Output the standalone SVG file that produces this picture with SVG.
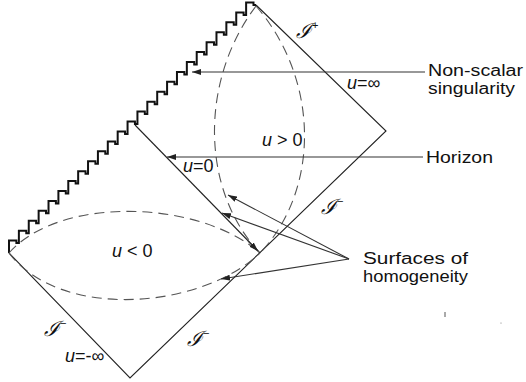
<svg xmlns="http://www.w3.org/2000/svg" width="526" height="382" viewBox="0 0 526 382">
<defs>
<style>
.edge{fill:none;stroke:#222;stroke-width:1.1}
.sing{fill:none;stroke:#111;stroke-width:2}
.dash{fill:none;stroke:#555;stroke-width:1.1;stroke-dasharray:10 6}
.ptr{fill:none;stroke:#333;stroke-width:1.1}
.lbl{font-family:"Liberation Sans",Arial,sans-serif;font-size:16px;fill:#111}
.u{font-family:"Liberation Sans",Arial,sans-serif;font-size:18px;fill:#111}
.scri{font-family:"DejaVu Serif","Liberation Serif",serif;font-style:italic;font-size:21px;fill:#111}
.sup{font-family:"Liberation Sans",Arial,sans-serif;font-style:normal;font-size:11px}
</style>
<marker id="ah" viewBox="0 0 9 6" refX="9" refY="3" markerWidth="9" markerHeight="6" markerUnits="userSpaceOnUse" orient="auto">
<path d="M0,0 L9,3 L0,6 z" fill="#222"/>
</marker>
</defs>
<rect width="526" height="382" fill="#fff"/>
<g id="spacetime">
<path class="sing" d="M9,253 v-12.42h7.38v2.5h2.5 v-12.42h7.38v2.5h2.5 v-12.42h7.38v2.5h2.5 v-12.42h7.38v2.5h2.5 v-12.42h7.38v2.5h2.5 v-12.42h7.38v2.5h2.5 v-12.42h7.38v2.5h2.5 v-12.42h7.38v2.5h2.5 v-12.42h7.38v2.5h2.5 v-12.42h7.38v2.5h2.5 v-12.42h7.38v2.5h2.5 v-12.42h7.38v2.5h2.5 v-12.42h7.38v2.5h2.5 v-12.42h7.38v2.5h2.5 v-12.42h7.38v2.5h2.5 v-12.42h7.38v2.5h2.5 v-12.42h7.38v2.5h2.5 v-12.42h7.38v2.5h2.5 v-12.42h7.38v2.5h2.5 v-12.42h7.38v2.5h2.5 v-12.42h7.38v2.5h2.5 v-12.42h7.38v2.5h2.5 v-12.42h7.38v2.5h2.5 v-12.42h7.38v2.5h2.5 v-12.42h7.38v2.5h2.5"/>
<path class="edge" d="M256,5 L386,131 L130,378 L9,253"/>
<path class="edge" d="M135,125 L260,253"/>
<path class="dash" d="M256,6 C200,80 200,190 260,253"/>
<path class="dash" d="M256,6 C320,80 320,190 260,253"/>
<path class="dash" d="M9,253 C60,195 200,200 260,253"/>
<path class="dash" d="M9,253 C60,320 200,310 260,253"/>
</g>
<g id="connectors">
<line class="ptr" x1="425" y1="72" x2="192" y2="72" marker-end="url(#ah)"/>
<line class="ptr" x1="423" y1="157" x2="167" y2="157" marker-end="url(#ah)"/>
<line class="ptr" x1="349" y1="259" x2="228" y2="195" marker-end="url(#ah)"/>
<line class="ptr" x1="349" y1="259" x2="222" y2="213" marker-end="url(#ah)"/>
<line class="ptr" x1="349" y1="259" x2="221" y2="279" marker-end="url(#ah)"/>
<line class="ptr" x1="248" y1="241" x2="258" y2="251" marker-end="url(#ah)"/>
</g>
<g id="label-nonscalar">
<text class="lbl" x="428" y="76" textLength="95" lengthAdjust="spacingAndGlyphs">Non-scalar</text>
<text class="lbl" x="428" y="94" textLength="87" lengthAdjust="spacingAndGlyphs">singularity</text>
</g>
<g id="label-horizon">
<text class="lbl" x="426" y="163" font-size="18" textLength="67" lengthAdjust="spacingAndGlyphs">Horizon</text>
</g>
<g id="label-surfaces">
<text class="lbl" x="363" y="264" textLength="105" lengthAdjust="spacingAndGlyphs">Surfaces of</text>
<text class="lbl" x="363" y="282" textLength="105" lengthAdjust="spacingAndGlyphs">homogeneity</text>
</g>
<g id="region-labels">
<text class="u" x="262" y="146"><tspan font-style="italic">u</tspan> &gt; 0</text>
<text class="u" x="183" y="172"><tspan font-style="italic">u</tspan>=0</text>
<text class="u" x="347" y="89"><tspan font-style="italic">u</tspan>=∞</text>
<text class="u" x="112" y="257"><tspan font-style="italic">u</tspan> &lt; 0</text>
<text class="u" x="65" y="362"><tspan font-style="italic">u</tspan>=-∞</text>
<text class="scri" x="296" y="38">ℐ<tspan class="sup" dy="-9">+</tspan></text>
<text class="scri" x="321" y="214">ℐ<tspan class="sup" dy="-9">−</tspan></text>
<text class="scri" x="44" y="336">ℐ<tspan class="sup" dy="-9">−</tspan></text>
<text class="scri" x="187" y="346">ℐ<tspan class="sup" dy="-9">−</tspan></text>
</g>
<g id="specks">
<line x1="445" y1="312" x2="445" y2="317" stroke="#555" stroke-width="1"/>
<circle cx="501" cy="323" r="0.6" fill="#777"/>
</g>
</svg>
